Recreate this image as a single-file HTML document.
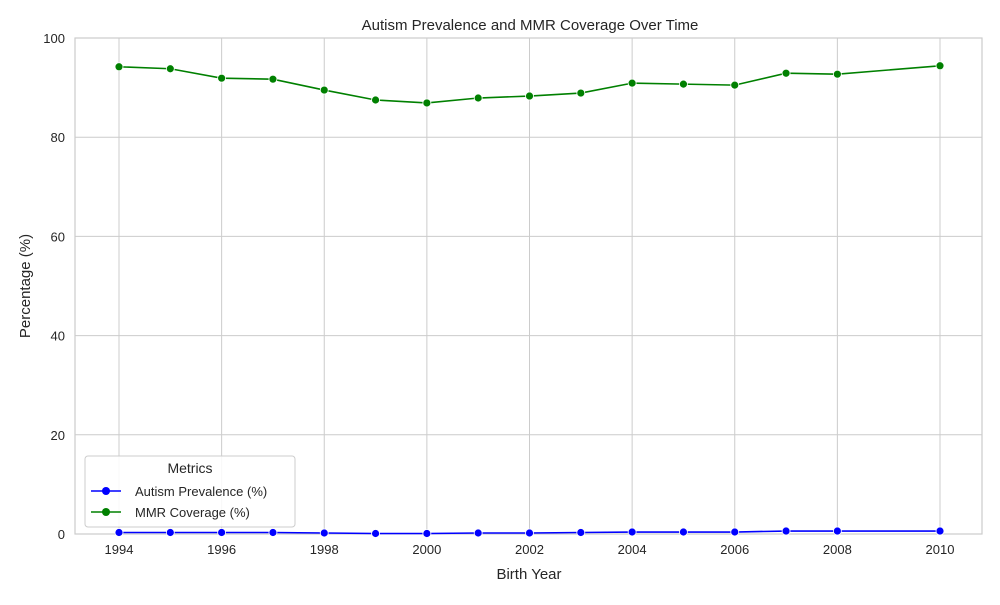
<!DOCTYPE html>
<html><head><meta charset="utf-8"><style>
body{margin:0;background:#fff;font-family:"Liberation Sans",sans-serif}
svg text{font-family:"Liberation Sans",sans-serif;fill:#262626}
</style></head><body>
<svg id="c" width="1000" height="600"></svg>
<script>
const years=[1994,1995,1996,1997,1998,1999,2000,2001,2002,2003,2004,2005,2006,2007,2008,2010];
const autism=[0.3,0.3,0.3,0.3,0.2,0.1,0.1,0.2,0.2,0.3,0.4,0.4,0.4,0.6,0.6,0.6];
const mmr=[94.2,93.8,91.9,91.7,89.5,87.5,86.9,87.9,88.3,88.9,90.9,90.7,90.5,92.9,92.7,94.4];
const xTicks=[1994,1996,1998,2000,2002,2004,2006,2008,2010];
const yTicks=[0,20,40,60,80,100];
const L=75,R=982,T=38,B=534;
const x=v=>119+(v-1994)*(940-119)/16;
const y=v=>B-(v)*(B-T)/100;
const s=document.getElementById('c');const NS='http://www.w3.org/2000/svg';
function el(t,a,p){const e=document.createElementNS(NS,t);for(const k in a)e.setAttribute(k,a[k]);(p||s).appendChild(e);return e;}
xTicks.forEach(v=>{const g=el('line',{x1:x(v),x2:x(v),y1:T,y2:B,stroke:'#ccc','stroke-width':1});

const t=el('text',{x:x(v),y:B+20,'text-anchor':'middle','font-size':13});t.textContent=v;
});
yTicks.forEach(v=>{const g=el('line',{x1:L,x2:R,y1:y(v),y2:y(v),stroke:'#ccc','stroke-width':1});

const t=el('text',{x:L-10,y:y(v)+5,'text-anchor':'end','font-size':13});t.textContent=v;
});
const fr=el('rect',{x:L,y:T,width:R-L,height:B-T,fill:'none',stroke:'#ccc','stroke-width':1.2});

function series(vals,col,name){
const p=el('polyline',{points:years.map((yr,i)=>x(yr)+','+y(vals[i])).join(' '),fill:'none',stroke:col,'stroke-width':1.6});

years.forEach((yr,i)=>{const c=el('circle',{cx:x(yr),cy:y(vals[i]),r:4,fill:col,stroke:'#fff','stroke-width':0.8});
});}
series(mmr,'#008000','mmr');
series(autism,'#0000ff','autism');
</script>
<svg width="1000" height="600" style="position:absolute;left:0;top:0">
<text x="530" y="30" text-anchor="middle" font-size="15">Autism Prevalence and MMR Coverage Over Time</text>
<text x="529" y="579" text-anchor="middle" font-size="15">Birth Year</text>
<text x="30" y="286" text-anchor="middle" font-size="15" transform="rotate(-90 30 286)">Percentage (%)</text>
<g>
<rect x="85" y="456" width="210" height="71" rx="3" fill="#fff" fill-opacity="0.85" stroke="#ccc"/>
<text x="190" y="473" text-anchor="middle" font-size="14">Metrics</text>
<g><line x1="91" x2="121" y1="491" y2="491" stroke="#0000ff" stroke-width="1.6"/><circle cx="106" cy="491" r="4" fill="#0000ff"/><text x="135" y="496" font-size="13">Autism Prevalence (%)</text></g>
<g><line x1="91" x2="121" y1="512" y2="512" stroke="#008000" stroke-width="1.6"/><circle cx="106" cy="512" r="4" fill="#008000"/><text x="135" y="517" font-size="13">MMR Coverage (%)</text></g>
</g>
</svg>
</body></html>
